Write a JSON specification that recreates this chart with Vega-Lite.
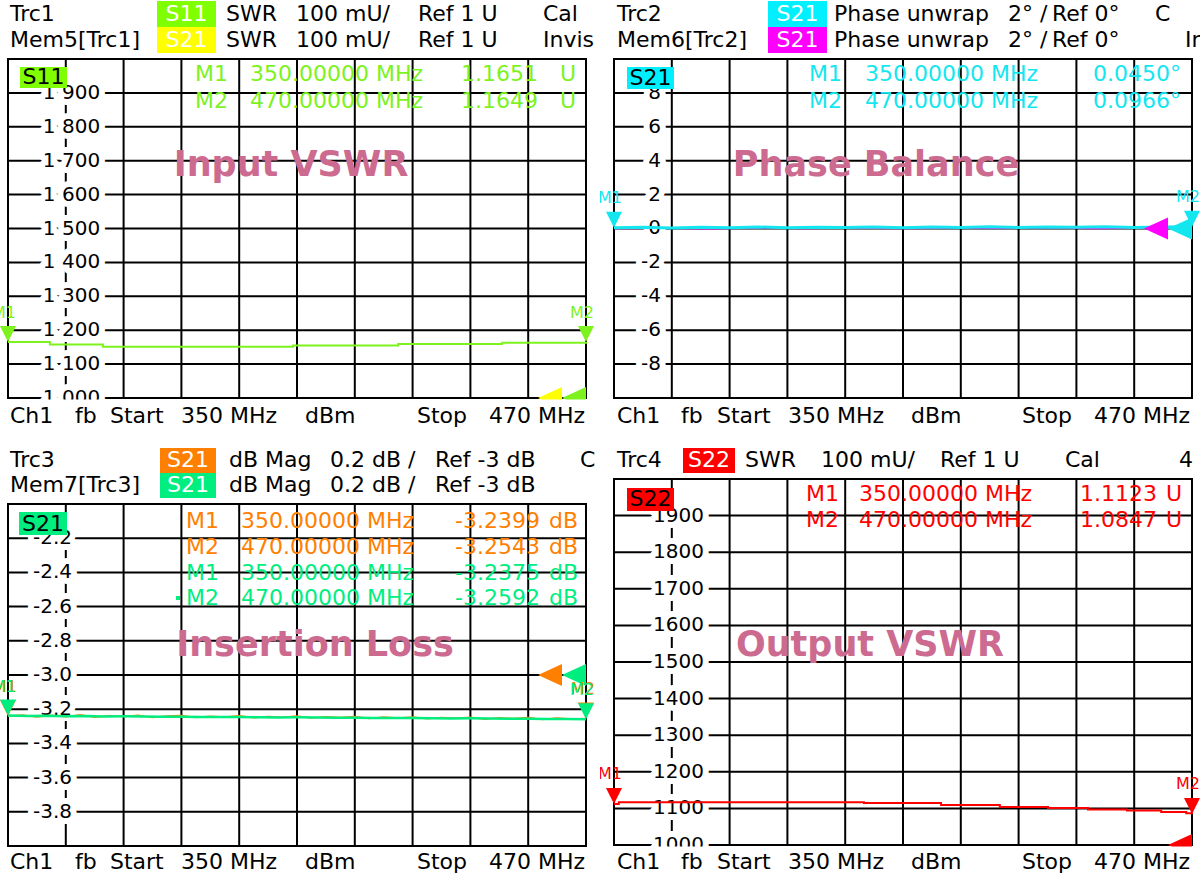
{
"$schema": "https://vega.github.io/schema/vega-lite/v6.json",
"background": "white",
"padding": 0,
"autosize": {"type": "pad"},
"config": {"view": {"stroke": null}, "text": {"font": "DejaVu Sans", "fontSize": 22, "baseline": "middle", "align": "left"}},
"datasets": {
"vgSwr": [{"f":350,"v":1.0,"v2":2.0},{"f":362,"v":1.0,"v2":2.0},{"f":374,"v":1.0,"v2":2.0},{"f":386,"v":1.0,"v2":2.0},{"f":398,"v":1.0,"v2":2.0},{"f":410,"v":1.0,"v2":2.0},{"f":422,"v":1.0,"v2":2.0},{"f":434,"v":1.0,"v2":2.0},{"f":446,"v":1.0,"v2":2.0},{"f":458,"v":1.0,"v2":2.0},{"f":470,"v":1.0,"v2":2.0}],
"vgPh": [{"f":350,"v":-10,"v2":10},{"f":362,"v":-10,"v2":10},{"f":374,"v":-10,"v2":10},{"f":386,"v":-10,"v2":10},{"f":398,"v":-10,"v2":10},{"f":410,"v":-10,"v2":10},{"f":422,"v":-10,"v2":10},{"f":434,"v":-10,"v2":10},{"f":446,"v":-10,"v2":10},{"f":458,"v":-10,"v2":10},{"f":470,"v":-10,"v2":10}],
"vgDb": [{"f":350,"v":-4.0,"v2":-2.0},{"f":362,"v":-4.0,"v2":-2.0},{"f":374,"v":-4.0,"v2":-2.0},{"f":386,"v":-4.0,"v2":-2.0},{"f":398,"v":-4.0,"v2":-2.0},{"f":410,"v":-4.0,"v2":-2.0},{"f":422,"v":-4.0,"v2":-2.0},{"f":434,"v":-4.0,"v2":-2.0},{"f":446,"v":-4.0,"v2":-2.0},{"f":458,"v":-4.0,"v2":-2.0},{"f":470,"v":-4.0,"v2":-2.0}],
"hgSwr": [{"v":1.0,"f":350,"f2":470},{"v":1.1,"f":350,"f2":470},{"v":1.2,"f":350,"f2":470},{"v":1.3,"f":350,"f2":470},{"v":1.4,"f":350,"f2":470},{"v":1.5,"f":350,"f2":470},{"v":1.6,"f":350,"f2":470},{"v":1.7,"f":350,"f2":470},{"v":1.8,"f":350,"f2":470},{"v":1.9,"f":350,"f2":470},{"v":2.0,"f":350,"f2":470}],
"hgPh": [{"v":-10,"f":350,"f2":470},{"v":-8,"f":350,"f2":470},{"v":-6,"f":350,"f2":470},{"v":-4,"f":350,"f2":470},{"v":-2,"f":350,"f2":470},{"v":0,"f":350,"f2":470},{"v":2,"f":350,"f2":470},{"v":4,"f":350,"f2":470},{"v":6,"f":350,"f2":470},{"v":8,"f":350,"f2":470},{"v":10,"f":350,"f2":470}],
"hgDb": [{"v":-4.0,"f":350,"f2":470},{"v":-3.8,"f":350,"f2":470},{"v":-3.6,"f":350,"f2":470},{"v":-3.4,"f":350,"f2":470},{"v":-3.2,"f":350,"f2":470},{"v":-3.0,"f":350,"f2":470},{"v":-2.8,"f":350,"f2":470},{"v":-2.6,"f":350,"f2":470},{"v":-2.4,"f":350,"f2":470},{"v":-2.2,"f":350,"f2":470},{"v":-2.0,"f":350,"f2":470}],
"tlTicks": [{"v":1.9,"f":363.183,"label":"1 900"},{"v":1.8,"f":363.183,"label":"1 800"},{"v":1.7,"f":363.183,"label":"1 700"},{"v":1.6,"f":363.183,"label":"1 600"},{"v":1.5,"f":363.183,"label":"1 500"},{"v":1.4,"f":363.183,"label":"1 400"},{"v":1.3,"f":363.183,"label":"1 300"},{"v":1.2,"f":363.183,"label":"1 200"},{"v":1.1,"f":363.183,"label":"1 100"},{"v":1.0,"f":363.183,"label":"1 000"}],
"brTicks": [{"v":1.9,"f":363.391,"label":"1900"},{"v":1.8,"f":363.391,"label":"1800"},{"v":1.7,"f":363.391,"label":"1700"},{"v":1.6,"f":363.391,"label":"1600"},{"v":1.5,"f":363.391,"label":"1500"},{"v":1.4,"f":363.391,"label":"1400"},{"v":1.3,"f":363.391,"label":"1300"},{"v":1.2,"f":363.391,"label":"1200"},{"v":1.1,"f":363.391,"label":"1100"},{"v":1.0,"f":363.391,"label":"1000"}],
"trTicks": [{"v":8,"f":359.758,"label":"8"},{"v":6,"f":359.758,"label":"6"},{"v":4,"f":359.758,"label":"4"},{"v":2,"f":359.758,"label":"2"},{"v":0,"f":359.758,"label":"0"},{"v":-2,"f":359.758,"label":"-2"},{"v":-4,"f":359.758,"label":"-4"},{"v":-6,"f":359.758,"label":"-6"},{"v":-8,"f":359.758,"label":"-8"}],
"blTicks": [{"v":-2.2,"f":363.287,"label":"-2.2"},{"v":-2.4,"f":363.287,"label":"-2.4"},{"v":-2.6,"f":363.287,"label":"-2.6"},{"v":-2.8,"f":363.287,"label":"-2.8"},{"v":-3.0,"f":363.287,"label":"-3.0"},{"v":-3.2,"f":363.287,"label":"-3.2"},{"v":-3.4,"f":363.287,"label":"-3.4"},{"v":-3.6,"f":363.287,"label":"-3.6"},{"v":-3.8,"f":363.287,"label":"-3.8"}],
"tlTrace": [{"f":350,"v":1.1651},{"f":358.7,"v":1.158},{"f":369.7,"v":1.151},{"f":409.2,"v":1.155},{"f":431.0,"v":1.159},{"f":452.6,"v":1.163},{"f":470,"v":1.1649}],
"trTrace": [{"f":350,"v":0.045},{"f":356,"v":0.07},{"f":362,"v":0.03},{"f":368,"v":0.08},{"f":374,"v":0.05},{"f":380,"v":0.09},{"f":386,"v":0.04},{"f":392,"v":0.075},{"f":398,"v":0.06},{"f":404,"v":0.095},{"f":410,"v":0.05},{"f":416,"v":0.085},{"f":422,"v":0.065},{"f":428,"v":0.1},{"f":434,"v":0.055},{"f":440,"v":0.09},{"f":446,"v":0.07},{"f":452,"v":0.105},{"f":458,"v":0.065},{"f":464,"v":0.095},{"f":470,"v":0.0966}],
"trMem": [{"f":350,"v":0.01},{"f":360,"v":0.03},{"f":370,"v":0.0},{"f":380,"v":0.04},{"f":390,"v":0.02},{"f":400,"v":0.05},{"f":410,"v":0.01},{"f":420,"v":0.04},{"f":430,"v":0.03},{"f":440,"v":0.06},{"f":450,"v":0.02},{"f":460,"v":0.05},{"f":470,"v":0.04}],
"blTrc": [{"f":350,"v":-3.2399},{"f":353,"v":-3.234},{"f":356,"v":-3.245},{"f":359,"v":-3.236},{"f":362,"v":-3.244},{"f":365,"v":-3.233},{"f":368,"v":-3.247},{"f":371,"v":-3.238},{"f":374,"v":-3.242},{"f":377,"v":-3.235},{"f":380,"v":-3.248},{"f":383,"v":-3.24},{"f":386,"v":-3.237},{"f":389,"v":-3.249},{"f":392,"v":-3.241},{"f":395,"v":-3.245},{"f":398,"v":-3.238},{"f":401,"v":-3.25},{"f":404,"v":-3.242},{"f":407,"v":-3.247},{"f":410,"v":-3.24},{"f":413,"v":-3.252},{"f":416,"v":-3.244},{"f":419,"v":-3.249},{"f":422,"v":-3.243},{"f":425,"v":-3.254},{"f":428,"v":-3.246},{"f":431,"v":-3.251},{"f":434,"v":-3.245},{"f":437,"v":-3.256},{"f":440,"v":-3.248},{"f":443,"v":-3.253},{"f":446,"v":-3.247},{"f":449,"v":-3.258},{"f":452,"v":-3.25},{"f":455,"v":-3.255},{"f":458,"v":-3.249},{"f":461,"v":-3.26},{"f":464,"v":-3.252},{"f":467,"v":-3.257},{"f":470,"v":-3.2543}],
"blMem": [{"f":350,"v":-3.2375},{"f":354,"v":-3.239},{"f":358,"v":-3.238},{"f":362,"v":-3.241},{"f":366,"v":-3.24},{"f":370,"v":-3.242},{"f":374,"v":-3.2415},{"f":378,"v":-3.243},{"f":382,"v":-3.244},{"f":386,"v":-3.2435},{"f":390,"v":-3.245},{"f":394,"v":-3.246},{"f":398,"v":-3.2455},{"f":402,"v":-3.247},{"f":406,"v":-3.248},{"f":410,"v":-3.2475},{"f":414,"v":-3.249},{"f":418,"v":-3.25},{"f":422,"v":-3.2495},{"f":426,"v":-3.251},{"f":430,"v":-3.252},{"f":434,"v":-3.2515},{"f":438,"v":-3.253},{"f":442,"v":-3.254},{"f":446,"v":-3.2535},{"f":450,"v":-3.255},{"f":454,"v":-3.256},{"f":458,"v":-3.2555},{"f":462,"v":-3.257},{"f":466,"v":-3.258},{"f":470,"v":-3.2592}],
"brTrace": [{"f":350,"v":1.1123},{"f":351,"v":1.117},{"f":401.9,"v":1.115},{"f":417.9,"v":1.109},{"f":430.1,"v":1.104},{"f":440.1,"v":1.101},{"f":448.4,"v":1.097},{"f":456.5,"v":1.094},{"f":463.6,"v":1.09},{"f":468.8,"v":1.087},{"f":470,"v":1.0847}],
"tlMk": [{"f":350,"v":1.1651,"label":"M1"},{"f":470,"v":1.1649,"label":"M2"}],
"trMk": [{"f":350,"v":0.045,"label":"M1"},{"f":470,"v":0.0966,"label":"M2"}],
"blMkT": [{"f":350,"v":-3.2399,"label":"M1"},{"f":470,"v":-3.2543,"label":"M2"}],
"blMkM": [{"f":350,"v":-3.2375,"label":"M1"},{"f":470,"v":-3.2592,"label":"M2"}],
"brMk": [{"f":350,"v":1.1123,"label":"M1"},{"f":470,"v":1.0847,"label":"M2"}]
},
"spacing": 0,
"vconcat": [
{"hconcat": [
{
"width": 600, "height": 438,
"encoding": {"x": {"field": "f", "type": "quantitative", "scale": {"domain": [348.339, 472.907], "nice": false, "zero": false}, "axis": null}, "y": {"field": "v", "type": "quantitative", "scale": {"domain": [0.88201, 2.17404], "nice": false, "zero": false}, "axis": null}},
"layer": [
{"data": {"name": "vgSwr"}, "mark": {"type": "rule", "color": "#000000", "strokeWidth": 2, "strokeCap": "square", "clip": true}, "encoding": {"y2": {"field": "v2"}}},
{"data": {"name": "hgSwr"}, "mark": {"type": "rule", "color": "#000000", "strokeWidth": 2, "strokeCap": "square", "clip": true}, "encoding": {"x2": {"field": "f2"}}},
{"data": {"name": "tlTicks"}, "mark": {"type": "text", "fill": "#ffffff", "stroke": "#ffffff", "strokeWidth": 12, "strokeJoin": "round", "fontSize": 20, "align": "center", "clip": true}, "encoding": {"text": {"field": "label"}}},
{"data": {"name": "tlTicks"}, "mark": {"type": "text", "fill": "#000000", "fontSize": 20, "align": "center", "clip": true}, "encoding": {"text": {"field": "label"}}},
{"data": {"name": "tlTrace"}, "mark": {"type": "line", "color": "#7DF21F", "strokeWidth": 2, "interpolate": "step-after", "clip": true}},
{"data": {"values": [{"f": 462.525, "v": 1.0}]}, "mark": {"type": "point", "shape": "M 1 -0.92 L 1 0.92 L -1 0 Z", "size": 576, "filled": true, "opacity": 1, "color": "#FFFF00", "strokeWidth": 0, "clip": true}},
{"data": {"values": [{"f": 467.507, "v": 1.0}]}, "mark": {"type": "point", "shape": "M 1 -0.92 L 1 0.92 L -1 0 Z", "size": 576, "filled": true, "opacity": 1, "color": "#7DF21F", "strokeWidth": 0, "clip": true}},
{"data": {"values": [{"f": 340, "f2": 480, "v": 0.5, "v2": 0.99558}]}, "mark": {"type": "rect", "color": "#ffffff", "clip": true}, "encoding": {"x2": {"field": "f2"}, "y2": {"field": "v2"}}},
{"data": {"name": "tlMk"}, "mark": {"type": "point", "shape": "M -1 -2 L 1 -2 L 0 0 Z", "size": 256, "filled": true, "opacity": 1, "color": "#7DF21F", "strokeWidth": 0, "clip": true}},
{"data": {"name": "tlMk"}, "mark": {"type": "text", "align": "center", "fontSize": 16, "dx": -4, "dy": -29, "fill": "#7DF21F", "clip": true}, "encoding": {"text": {"field": "label"}}},
{"data": {"values": [{"f": 352.49, "f2": 362.25, "v": 1.9764, "v2": 1.91445}]}, "mark": {"type": "rect", "color": "#80FF00", "clip": true}, "encoding": {"x2": {"field": "f2"}, "y2": {"field": "v2"}}},
{"data": {"values": [{"f": 357.37, "v": 1.94543, "label": "S11"}]}, "mark": {"type": "text", "align": "center", "fill": "#000000", "clip": true}, "encoding": {"text": {"field": "label"}}},
{"data": {"values": [{"f":388.823,"v":1.95575,"label":"M1"},{"f":400.242,"v":1.95575,"label":"350.00000 MHz"},{"f":464.601,"v":1.95575,"label":"U"},{"f":388.823,"v":1.87611,"label":"M2"},{"f":400.242,"v":1.87611,"label":"470.00000 MHz"},{"f":464.601,"v":1.87611,"label":"U"}]}, "mark": {"type": "text", "fill": "#7DF21F", "clip": true}, "encoding": {"text": {"field": "label"}}},
{"data": {"values": [{"f":460.033,"v":1.95575,"label":"1.1651"},{"f":460.033,"v":1.87611,"label":"1.1649"}]}, "mark": {"type": "text", "align": "right", "fill": "#7DF21F", "clip": true}, "encoding": {"text": {"field": "label"}}},
{"data": {"values": [{"f": 408.754, "v": 1.68732, "label": "Input VSWR"}]}, "mark": {"type": "text", "align": "center", "fontSize": 35, "fontWeight": "bold", "fill": "#CC6A90", "clip": true}, "encoding": {"text": {"field": "label"}}},
{"data": {"values": [{"f": 380.934, "f2": 393.183, "v": 2.17109, "v2": 2.0944}]}, "mark": {"type": "rect", "color": "#80FF00", "clip": true}, "encoding": {"x2": {"field": "f2"}, "y2": {"field": "v2"}}},
{"data": {"values": [{"f": 380.934, "f2": 393.183, "v": 2.0944, "v2": 2.0177}]}, "mark": {"type": "rect", "color": "#FFFF00", "clip": true}, "encoding": {"x2": {"field": "f2"}, "y2": {"field": "v2"}}},
{"data": {"values": [{"f":387.058,"v":2.13274,"label":"S11"},{"f":387.058,"v":2.05605,"label":"S21"}]}, "mark": {"type": "text", "align": "center", "fill": "#ffffff", "clip": true}, "encoding": {"text": {"field": "label"}}},
{"data": {"values": [{"f":350.415,"v":2.13274,"label":"Trc1"},{"f":395.259,"v":2.13274,"label":"SWR"},{"f":409.792,"v":2.13274,"label":"100 mU/"},{"f":435.12,"v":2.13274,"label":"Ref 1 U"},{"f":461.071,"v":2.13274,"label":"Cal"},{"f":350.415,"v":2.05605,"label":"Mem5[Trc1]"},{"f":395.259,"v":2.05605,"label":"SWR"},{"f":409.792,"v":2.05605,"label":"100 mU/"},{"f":435.12,"v":2.05605,"label":"Ref 1 U"},{"f":461.071,"v":2.05605,"label":"Invis"},{"f":350.415,"v":0.9469,"label":"Ch1"},{"f":363.91,"v":0.9469,"label":"fb"},{"f":371.176,"v":0.9469,"label":"Start"},{"f":385.917,"v":0.9469,"label":"350 MHz"},{"f":411.66,"v":0.9469,"label":"dBm"},{"f":434.913,"v":0.9469,"label":"Stop"}]}, "mark": {"type": "text", "fill": "#000000", "clip": true}, "encoding": {"text": {"field": "label"}}},
{"data": {"values": [{"f":469.791,"v":0.9469,"label":"470 MHz"}]}, "mark": {"type": "text", "align": "right", "fill": "#000000", "clip": true}, "encoding": {"text": {"field": "label"}}}
]
},
{
"width": 600, "height": 438,
"encoding": {"x": {"field": "f", "type": "quantitative", "scale": {"domain": [347.093, 471.661], "nice": false, "zero": false}, "axis": null}, "y": {"field": "v", "type": "quantitative", "scale": {"domain": [-12.3599, 13.4808], "nice": false, "zero": false}, "axis": null}},
"layer": [
{"data": {"name": "vgPh"}, "mark": {"type": "rule", "color": "#000000", "strokeWidth": 2, "strokeCap": "square", "clip": true}, "encoding": {"y2": {"field": "v2"}}},
{"data": {"name": "hgPh"}, "mark": {"type": "rule", "color": "#000000", "strokeWidth": 2, "strokeCap": "square", "clip": true}, "encoding": {"x2": {"field": "f2"}}},
{"data": {"name": "trTicks"}, "mark": {"type": "text", "fill": "#ffffff", "stroke": "#ffffff", "strokeWidth": 12, "strokeJoin": "round", "fontSize": 20, "align": "right", "clip": true}, "encoding": {"text": {"field": "label"}}},
{"data": {"name": "trTicks"}, "mark": {"type": "text", "fill": "#000000", "fontSize": 20, "align": "right", "clip": true}, "encoding": {"text": {"field": "label"}}},
{"data": {"name": "trMem"}, "mark": {"type": "line", "color": "#FF00FF", "strokeWidth": 2, "clip": true}},
{"data": {"name": "trTrace"}, "mark": {"type": "line", "color": "#14E6F0", "strokeWidth": 3, "clip": true}},
{"data": {"values": [{"f": 462.525, "v": 0}]}, "mark": {"type": "point", "shape": "M 1 -0.92 L 1 0.92 L -1 0 Z", "size": 576, "filled": true, "opacity": 1, "color": "#FF00FF", "strokeWidth": 0, "clip": true}},
{"data": {"values": [{"f": 467.507, "v": 0}]}, "mark": {"type": "point", "shape": "M 1 -0.92 L 1 0.92 L -1 0 Z", "size": 576, "filled": true, "opacity": 1, "color": "#14E6F0", "strokeWidth": 0, "clip": true}},
{"data": {"name": "trMk"}, "mark": {"type": "point", "shape": "M -1 -2 L 1 -2 L 0 0 Z", "size": 256, "filled": true, "opacity": 1, "color": "#14E6F0", "strokeWidth": 0, "clip": true}},
{"data": {"name": "trMk"}, "mark": {"type": "text", "align": "center", "fontSize": 16, "dx": -4, "dy": -30, "fill": "#14E6F0", "clip": true}, "encoding": {"text": {"field": "label"}}},
{"data": {"values": [{"f": 352.699, "f2": 362.456, "v": 9.52802, "v2": 8.23009}]}, "mark": {"type": "rect", "color": "#00F0FF", "clip": true}, "encoding": {"x2": {"field": "f2"}, "y2": {"field": "v2"}}},
{"data": {"values": [{"f": 357.578, "v": 8.87906, "label": "S21"}]}, "mark": {"type": "text", "align": "center", "fill": "#000000", "clip": true}, "encoding": {"text": {"field": "label"}}},
{"data": {"values": [{"f":390.484,"v":9.11504,"label":"M1"},{"f":402.11,"v":9.11504,"label":"350.00000 MHz"},{"f":390.484,"v":7.52212,"label":"M2"},{"f":402.11,"v":7.52212,"label":"470.00000 MHz"}]}, "mark": {"type": "text", "fill": "#14E6F0", "clip": true}, "encoding": {"text": {"field": "label"}}},
{"data": {"values": [{"f":467.715,"v":9.11504,"label":"0.0450°"},{"f":467.715,"v":7.52212,"label":"0.0966°"}]}, "mark": {"type": "text", "align": "right", "fill": "#14E6F0", "clip": true}, "encoding": {"text": {"field": "label"}}},
{"data": {"values": [{"f": 404.394, "v": 3.74631, "label": "Phase Balance"}]}, "mark": {"type": "text", "align": "center", "fontSize": 35, "fontWeight": "bold", "fill": "#CC6A90", "clip": true}, "encoding": {"text": {"field": "label"}}},
{"data": {"values": [{"f": 381.972, "f2": 394.221, "v": 13.42183, "v2": 11.88791}]}, "mark": {"type": "rect", "color": "#00F0FF", "clip": true}, "encoding": {"x2": {"field": "f2"}, "y2": {"field": "v2"}}},
{"data": {"values": [{"f": 381.972, "f2": 394.221, "v": 11.88791, "v2": 10.35398}]}, "mark": {"type": "rect", "color": "#FF00FF", "clip": true}, "encoding": {"x2": {"field": "f2"}, "y2": {"field": "v2"}}},
{"data": {"values": [{"f":388.096,"v":12.65487,"label":"S21"},{"f":388.096,"v":11.12094,"label":"S21"}]}, "mark": {"type": "text", "align": "center", "fill": "#ffffff", "clip": true}, "encoding": {"text": {"field": "label"}}},
{"data": {"values": [{"f":350.623,"v":12.65487,"label":"Trc2"},{"f":395.674,"v":12.65487,"label":"Phase unwrap"},{"f":431.798,"v":12.65487,"label":"2° /"},{"f":440.933,"v":12.65487,"label":"Ref 0°"},{"f":462.317,"v":12.65487,"label":"C"},{"f":350.623,"v":11.12094,"label":"Mem6[Trc2]"},{"f":395.674,"v":11.12094,"label":"Phase unwrap"},{"f":431.798,"v":11.12094,"label":"2° /"},{"f":440.933,"v":11.12094,"label":"Ref 0°"},{"f":468.545,"v":11.12094,"label":"Invis"},{"f":350.623,"v":-11.06195,"label":"Ch1"},{"f":363.91,"v":-11.06195,"label":"fb"},{"f":371.384,"v":-11.06195,"label":"Start"},{"f":386.124,"v":-11.06195,"label":"350 MHz"},{"f":411.66,"v":-11.06195,"label":"dBm"},{"f":434.705,"v":-11.06195,"label":"Stop"}]}, "mark": {"type": "text", "fill": "#000000", "clip": true}, "encoding": {"text": {"field": "label"}}},
{"data": {"values": [{"f":469.583,"v":-11.06195,"label":"470 MHz"}]}, "mark": {"type": "text", "align": "right", "fill": "#000000", "clip": true}, "encoding": {"text": {"field": "label"}}}
]
}
], "spacing": 0},
{"hconcat": [
{
"width": 600, "height": 438,
"encoding": {"x": {"field": "f", "type": "quantitative", "scale": {"domain": [348.339, 472.907], "nice": false, "zero": false}, "axis": null}, "y": {"field": "v", "type": "quantitative", "scale": {"domain": [-4.1754, -1.614], "nice": false, "zero": false}, "axis": null}},
"layer": [
{"data": {"name": "vgDb"}, "mark": {"type": "rule", "color": "#000000", "strokeWidth": 2, "strokeCap": "square", "clip": true}, "encoding": {"y2": {"field": "v2"}}},
{"data": {"name": "hgDb"}, "mark": {"type": "rule", "color": "#000000", "strokeWidth": 2, "strokeCap": "square", "clip": true}, "encoding": {"x2": {"field": "f2"}}},
{"data": {"name": "blTicks"}, "mark": {"type": "text", "fill": "#ffffff", "stroke": "#ffffff", "strokeWidth": 12, "strokeJoin": "round", "fontSize": 20, "align": "right", "clip": true}, "encoding": {"text": {"field": "label"}}},
{"data": {"name": "blTicks"}, "mark": {"type": "text", "fill": "#000000", "fontSize": 20, "align": "right", "clip": true}, "encoding": {"text": {"field": "label"}}},
{"data": {"name": "blTrc"}, "mark": {"type": "line", "color": "#FF8000", "strokeWidth": 1.5, "clip": true}},
{"data": {"name": "blMem"}, "mark": {"type": "line", "color": "#00EE80", "strokeWidth": 2.5, "clip": true}},
{"data": {"values": [{"f": 462.525, "v": -3.0}]}, "mark": {"type": "point", "shape": "M 1 -0.92 L 1 0.92 L -1 0 Z", "size": 576, "filled": true, "opacity": 1, "color": "#FF8000", "strokeWidth": 0, "clip": true}},
{"data": {"values": [{"f": 467.507, "v": -3.0}]}, "mark": {"type": "point", "shape": "M 1 -0.92 L 1 0.92 L -1 0 Z", "size": 576, "filled": true, "opacity": 1, "color": "#00EE80", "strokeWidth": 0, "clip": true}},
{"data": {"name": "blMkT"}, "mark": {"type": "point", "shape": "M -1 -2 L 1 -2 L 0 0 Z", "size": 256, "filled": true, "opacity": 1, "color": "#FF8000", "strokeWidth": 0, "clip": true}},
{"data": {"name": "blMkM"}, "mark": {"type": "point", "shape": "M -1 -2 L 1 -2 L 0 0 Z", "size": 256, "filled": true, "opacity": 1, "color": "#00EE80", "strokeWidth": 0, "clip": true}},
{"data": {"name": "blMkT"}, "mark": {"type": "text", "align": "center", "fontSize": 16, "dx": -3, "dy": -29, "fill": "#FF8000", "clip": true}, "encoding": {"text": {"field": "label"}}},
{"data": {"name": "blMkM"}, "mark": {"type": "text", "align": "center", "fontSize": 16, "dx": -4, "dy": -29, "fill": "#00EE80", "clip": true}, "encoding": {"text": {"field": "label"}}},
{"data": {"values": [{"f": 385.294, "v": -2.54971}]}, "mark": {"type": "point", "shape": "square", "size": 16, "filled": true, "opacity": 1, "color": "#00EE80", "strokeWidth": 0, "clip": true}},
{"data": {"values": [{"f": 352.284, "f2": 362.249, "v": -2.04678, "v2": -2.18129}]}, "mark": {"type": "rect", "color": "#00EE80", "clip": true}, "encoding": {"x2": {"field": "f2"}, "y2": {"field": "v2"}}},
{"data": {"values": [{"f": 357.266, "v": -2.11404, "label": "S21"}]}, "mark": {"type": "text", "align": "center", "fill": "#000000", "clip": true}, "encoding": {"text": {"field": "label"}}},
{"data": {"values": [{"f":386.955,"v":-2.09942,"label":"M1"},{"f":398.373,"v":-2.09942,"label":"350.00000 MHz"},{"f":462.317,"v":-2.09942,"label":"dB"},{"f":386.955,"v":-2.25146,"label":"M2"},{"f":398.373,"v":-2.25146,"label":"470.00000 MHz"},{"f":462.317,"v":-2.25146,"label":"dB"}]}, "mark": {"type": "text", "fill": "#FF8000", "clip": true}, "encoding": {"text": {"field": "label"}}},
{"data": {"values": [{"f":460.449,"v":-2.09942,"label":"-3.2399"},{"f":460.449,"v":-2.25146,"label":"-3.2543"}]}, "mark": {"type": "text", "align": "right", "fill": "#FF8000", "clip": true}, "encoding": {"text": {"field": "label"}}},
{"data": {"values": [{"f":386.955,"v":-2.40351,"label":"M1"},{"f":398.373,"v":-2.40351,"label":"350.00000 MHz"},{"f":462.317,"v":-2.40351,"label":"dB"},{"f":386.955,"v":-2.54971,"label":"M2"},{"f":398.373,"v":-2.54971,"label":"470.00000 MHz"},{"f":462.317,"v":-2.54971,"label":"dB"}]}, "mark": {"type": "text", "fill": "#00EE80", "clip": true}, "encoding": {"text": {"field": "label"}}},
{"data": {"values": [{"f":460.449,"v":-2.40351,"label":"-3.2375"},{"f":460.449,"v":-2.54971,"label":"-3.2592"}]}, "mark": {"type": "text", "align": "right", "fill": "#00EE80", "clip": true}, "encoding": {"text": {"field": "label"}}},
{"data": {"values": [{"f": 413.736, "v": -2.82456, "label": "Insertion Loss"}]}, "mark": {"type": "text", "align": "center", "fontSize": 35, "fontWeight": "bold", "fill": "#CC6A90", "clip": true}, "encoding": {"text": {"field": "label"}}},
{"data": {"values": [{"f": 381.557, "f2": 393.183, "v": -1.67251, "v2": -1.81871}]}, "mark": {"type": "rect", "color": "#FF8000", "clip": true}, "encoding": {"x2": {"field": "f2"}, "y2": {"field": "v2"}}},
{"data": {"values": [{"f": 381.557, "f2": 393.183, "v": -1.81871, "v2": -1.96491}]}, "mark": {"type": "rect", "color": "#00EE80", "clip": true}, "encoding": {"x2": {"field": "f2"}, "y2": {"field": "v2"}}},
{"data": {"values": [{"f":387.37,"v":-1.74269,"label":"S21"},{"f":387.37,"v":-1.88889,"label":"S21"}]}, "mark": {"type": "text", "align": "center", "fill": "#ffffff", "clip": true}, "encoding": {"text": {"field": "label"}}},
{"data": {"values": [{"f":350.415,"v":-1.74269,"label":"Trc3"},{"f":395.882,"v":-1.74269,"label":"dB Mag"},{"f":416.85,"v":-1.74269,"label":"0.2 dB /"},{"f":438.65,"v":-1.74269,"label":"Ref -3 dB"},{"f":468.753,"v":-1.74269,"label":"C"},{"f":350.415,"v":-1.88889,"label":"Mem7[Trc3]"},{"f":395.882,"v":-1.88889,"label":"dB Mag"},{"f":416.85,"v":-1.88889,"label":"0.2 dB /"},{"f":438.65,"v":-1.88889,"label":"Ref -3 dB"},{"f":350.415,"v":-4.09357,"label":"Ch1"},{"f":363.91,"v":-4.09357,"label":"fb"},{"f":371.176,"v":-4.09357,"label":"Start"},{"f":385.917,"v":-4.09357,"label":"350 MHz"},{"f":411.66,"v":-4.09357,"label":"dBm"},{"f":434.913,"v":-4.09357,"label":"Stop"}]}, "mark": {"type": "text", "fill": "#000000", "clip": true}, "encoding": {"text": {"field": "label"}}},
{"data": {"values": [{"f":469.791,"v":-4.09357,"label":"470 MHz"}]}, "mark": {"type": "text", "align": "right", "fill": "#000000", "clip": true}, "encoding": {"text": {"field": "label"}}}
]
},
{
"width": 600, "height": 438,
"encoding": {"x": {"field": "f", "type": "quantitative", "scale": {"domain": [347.093, 471.661], "nice": false, "zero": false}, "axis": null}, "y": {"field": "v", "type": "quantitative", "scale": {"domain": [0.9153, 2.112], "nice": false, "zero": false}, "axis": null}},
"layer": [
{"data": {"name": "vgSwr"}, "mark": {"type": "rule", "color": "#000000", "strokeWidth": 2, "strokeCap": "square", "clip": true}, "encoding": {"y2": {"field": "v2"}}},
{"data": {"name": "hgSwr"}, "mark": {"type": "rule", "color": "#000000", "strokeWidth": 2, "strokeCap": "square", "clip": true}, "encoding": {"x2": {"field": "f2"}}},
{"data": {"name": "brTicks"}, "mark": {"type": "text", "fill": "#ffffff", "stroke": "#ffffff", "strokeWidth": 12, "strokeJoin": "round", "fontSize": 20, "align": "center", "clip": true}, "encoding": {"text": {"field": "label"}}},
{"data": {"name": "brTicks"}, "mark": {"type": "text", "fill": "#000000", "fontSize": 20, "align": "center", "clip": true}, "encoding": {"text": {"field": "label"}}},
{"data": {"name": "brTrace"}, "mark": {"type": "line", "color": "#FF0000", "strokeWidth": 2, "interpolate": "step-after", "clip": true}},
{"data": {"values": [{"f": 467.507, "v": 1.0}]}, "mark": {"type": "point", "shape": "M 1 -0.92 L 1 0.92 L -1 0 Z", "size": 576, "filled": true, "opacity": 1, "color": "#FF0000", "strokeWidth": 0, "clip": true}},
{"data": {"values": [{"f": 340, "f2": 480, "v": 0.5, "v2": 0.9959}]}, "mark": {"type": "rect", "color": "#ffffff", "clip": true}, "encoding": {"x2": {"field": "f2"}, "y2": {"field": "v2"}}},
{"data": {"name": "brMk"}, "mark": {"type": "point", "shape": "M -1 -2 L 1 -2 L 0 0 Z", "size": 256, "filled": true, "opacity": 1, "color": "#FF0000", "strokeWidth": 0, "clip": true}},
{"data": {"name": "brMk"}, "mark": {"type": "text", "align": "center", "fontSize": 16, "dx": -4, "dy": -30, "fill": "#FF0000", "clip": true}, "encoding": {"text": {"field": "label"}}},
{"data": {"values": [{"f": 352.699, "f2": 362.456, "v": 1.97541, "v2": 1.91257}]}, "mark": {"type": "rect", "color": "#FF0000", "clip": true}, "encoding": {"x2": {"field": "f2"}, "y2": {"field": "v2"}}},
{"data": {"values": [{"f": 357.578, "v": 1.94399, "label": "S22"}]}, "mark": {"type": "text", "align": "center", "fill": "#000000", "clip": true}, "encoding": {"text": {"field": "label"}}},
{"data": {"values": [{"f":389.861,"v":1.95902,"label":"M1"},{"f":400.864,"v":1.95902,"label":"350.00000 MHz"},{"f":464.601,"v":1.95902,"label":"U"},{"f":389.861,"v":1.88798,"label":"M2"},{"f":400.864,"v":1.88798,"label":"470.00000 MHz"},{"f":464.601,"v":1.88798,"label":"U"}]}, "mark": {"type": "text", "fill": "#FF0000", "clip": true}, "encoding": {"text": {"field": "label"}}},
{"data": {"values": [{"f":462.732,"v":1.95902,"label":"1.1123"},{"f":462.732,"v":1.88798,"label":"1.0847"}]}, "mark": {"type": "text", "align": "right", "fill": "#FF0000", "clip": true}, "encoding": {"text": {"field": "label"}}},
{"data": {"values": [{"f": 403.148, "v": 1.54645, "label": "Output VSWR"}]}, "mark": {"type": "text", "align": "center", "fontSize": 35, "fontWeight": "bold", "fill": "#CC6A90", "clip": true}, "encoding": {"text": {"field": "label"}}},
{"data": {"values": [{"f": 364.325, "f2": 375.121, "v": 2.0847, "v2": 2.01639}]}, "mark": {"type": "rect", "color": "#FF0000", "clip": true}, "encoding": {"x2": {"field": "f2"}, "y2": {"field": "v2"}}},
{"data": {"values": [{"f":369.723,"v":2.05191,"label":"S22"}]}, "mark": {"type": "text", "align": "center", "fill": "#ffffff", "clip": true}, "encoding": {"text": {"field": "label"}}},
{"data": {"values": [{"f":350.623,"v":2.05191,"label":"Trc4"},{"f":377.197,"v":2.05191,"label":"SWR"},{"f":392.975,"v":2.05191,"label":"100 mU/"},{"f":417.681,"v":2.05191,"label":"Ref 1 U"},{"f":443.632,"v":2.05191,"label":"Cal"},{"f":467.3,"v":2.05191,"label":"4"},{"f":350.623,"v":0.95355,"label":"Ch1"},{"f":363.91,"v":0.95355,"label":"fb"},{"f":371.384,"v":0.95355,"label":"Start"},{"f":386.124,"v":0.95355,"label":"350 MHz"},{"f":411.66,"v":0.95355,"label":"dBm"},{"f":434.705,"v":0.95355,"label":"Stop"}]}, "mark": {"type": "text", "fill": "#000000", "clip": true}, "encoding": {"text": {"field": "label"}}},
{"data": {"values": [{"f":469.583,"v":0.95355,"label":"470 MHz"}]}, "mark": {"type": "text", "align": "right", "fill": "#000000", "clip": true}, "encoding": {"text": {"field": "label"}}}
]
}
], "spacing": 0}
]
}
